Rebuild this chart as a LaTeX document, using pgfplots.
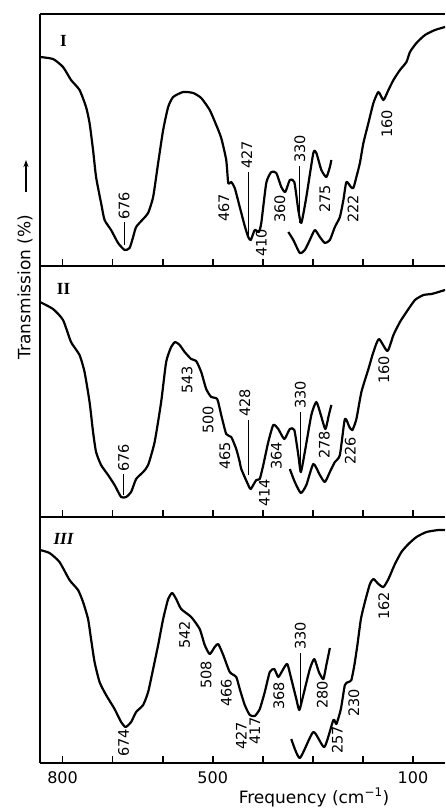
\documentclass[border=0pt]{standalone}
\usepackage{fontspec}
\setmainfont{DejaVu Sans}
\newfontfamily\romfont{Liberation Serif}
\usepackage{pgfplots}
\pgfplotsset{compat=1.18}
\usetikzlibrary{arrows.meta}

\pgfplotsset{
 panel/.style={scale only axis, width=405pt, x dir=reverse, xmin=36, xmax=845, ymin=0, clip=false,
   axis x line*=box, axis y line*=left, axis line style={line width=2.4pt},
   xtick={100,200,...,800}, ytick=\empty, tick align=inside, xtick pos=left, major tick length=7pt,
   major tick style={line width=1.8pt, black}, xticklabels={}, anchor=north west},
 curve/.style={black, line width=2.2pt, smooth, tension=0.35, line join=round, no markers},
}
\tikzset{
 pk/.style={rotate=90, anchor=west, inner sep=0pt, font=\fontsize{14.5}{14.5}\selectfont},
 ld/.style={line width=1.2pt},
 rn/.style={inner sep=0pt, font=\romfont\bfseries\fontsize{17}{17}\selectfont},
}

\begin{document}
\begin{tikzpicture}
\useasboundingbox (0pt,0pt) rectangle (445pt,-808pt);

% ---------------- Panel I ----------------
\begin{axis}[panel, at={(40pt,-14pt)}, height=252pt, ymax=252]
\addplot[curve] coordinates {
(845,209)(819,207)(799,199)(783,186)(766,176)(753,159)(746,143)(739,116)(733,89)(723,63)(716,46)(703,36)(689,23)(676,16)(666,18)(659,29)(653,39)(639,47)(629,53)(619,69)(609,103)(599,136)(589,159)(579,169)(559,174)(539,173)(523,168)(506,156)(493,141)(483,128)(473,106)(469,83)(463,84)(456,78)(446,59)(436,40)(429,29)(424,26)(416,36)(408,34)(403,43)(393,83)(383,94)(373,93)(363,79)(355,74)(346,86)(337,84)(329,56)(323,43)(313,69)(299,113)(293,113)(283,96)(273,89)(266,99)(263,106)
};
\addplot[curve] coordinates {
(349,34)(339,26)(326,13)(316,16)(306,26)(296,36)(286,29)(276,23)(266,26)(256,39)(246,49)(239,66)(233,84)(224,79)(219,78)(213,89)(206,103)(199,123)(189,143)(179,163)(169,174)(159,166)(149,176)(139,186)(126,196)(113,204)(106,214)(93,223)(76,231)(56,236)(36,239)
};
\node[rn] at (axis cs:798,225) {I};
\draw[ld] (axis cs:677,21) -- (axis cs:677,44);
\node[pk] at (axis cs:677,46) {676};
\node[pk] at (axis cs:478,44) {467};
\draw[ld] (axis cs:428,27) -- (axis cs:428,94);
\node[pk] at (axis cs:432,97) {427};
\node[pk] at (axis cs:403,9) {410};
\node[pk] at (axis cs:366,43) {360};
\draw[ld] (axis cs:326,43) -- (axis cs:326,100);
\node[pk] at (axis cs:326,103) {330};
\node[pk] at (axis cs:276,53) {275};
\node[pk] at (axis cs:220,43) {222};
\node[pk] at (axis cs:152,128) {160};
\end{axis}

% ---------------- Panel II ----------------
\begin{axis}[panel, at={(40pt,-266pt)}, height=251pt, ymax=251]
\addplot[curve] coordinates {
(845,215)(819,208)(799,197)(783,175)(766,162)(756,145)(746,115)(739,85)(733,65)(723,52)(709,42)(696,32)(683,20)(673,20)(663,25)(653,38)(639,45)(629,52)(616,75)(603,115)(593,155)(583,170)(575,175)(566,172)(556,165)(543,158)(533,156)(523,145)(513,128)(503,120)(491,118)(483,102)(473,83)(463,80)(453,68)(446,55)(443,48)(429,32)(424,28)(413,37)(406,38)(399,52)(389,75)(379,92)(369,88)(357,78)(346,88)(337,87)(329,62)(324,45)(316,65)(303,102)(293,115)(284,102)(275,88)(268,102)(263,112)
};
\addplot[curve] coordinates {
(346,48)(336,35)(324,24)(313,32)(299,53)(286,42)(276,35)(266,45)(256,55)(246,62)(236,98)(227,90)(221,87)(213,98)(203,125)(189,148)(179,165)(168,178)(151,166)(139,182)(126,195)(113,205)(96,217)(79,222)(63,223)(49,225)(36,227)
};
\node[rn] at (axis cs:798,228) {II};
\draw[ld] (axis cs:678,22) -- (axis cs:678,43);
\node[pk] at (axis cs:678,45) {676};
\node[pk] at (axis cs:551,123) {543};
\node[pk] at (axis cs:509,83) {500};
\node[pk] at (axis cs:476,47) {465};
\draw[ld] (axis cs:428,42) -- (axis cs:428,97);
\node[pk] at (axis cs:436,100) {428};
\node[pk] at (axis cs:397,10) {414};
\node[pk] at (axis cs:373,47) {364};
\draw[ld] (axis cs:325,48) -- (axis cs:325,105);
\node[pk] at (axis cs:325,108) {330};
\node[pk] at (axis cs:277,58) {278};
\node[pk] at (axis cs:225,52) {226};
\node[pk] at (axis cs:158,133) {160};
\end{axis}

% ---------------- Panel III ----------------
\begin{axis}[panel, at={(40pt,-517pt)}, height=246pt, ymax=246,
  xticklabels={100,{},{},{},500,{},{},800},
  xticklabel style={font=\fontsize{16}{16}\selectfont, yshift=-5pt}]
\addplot[curve] coordinates {
(845,213)(826,210)(806,201)(786,183)(769,173)(759,161)(749,144)(743,124)(736,101)(726,81)(713,68)(696,54)(683,41)(674,36)(663,41)(653,51)(639,58)(629,71)(619,94)(609,118)(599,144)(589,164)(581,170)(573,164)(563,154)(543,146)(526,134)(516,118)(506,109)(496,116)(489,119)(479,108)(466,91)(453,86)(446,74)(436,58)(426,48)(416,47)(406,54)(396,71)(386,91)(377,94)(369,86)(359,94)(351,99)(343,84)(333,64)(327,53)(319,68)(306,94)(297,104)(288,91)(279,84)(273,98)(266,115)
};
\addplot[curve] coordinates {
(343,24)(326,5)(299,31)(277,16)(259,43)(253,39)(244,54)(236,78)(229,81)(223,83)(217,98)(211,118)(204,144)(196,161)(186,179)(179,184)(169,179)(159,176)(149,184)(136,199)(123,211)(109,219)(93,226)(73,231)(49,233)(36,233)
};
\node[rn] at (axis cs:798,224) {\itshape III};
\node[pk] at (axis cs:678,6) {674};
\node[pk] at (axis cs:556,114) {542};
\node[pk] at (axis cs:513,74) {508};
\node[pk] at (axis cs:473,56) {466};
\node[pk] at (axis cs:443,13) {427};
\node[pk] at (axis cs:416,18) {417};
\node[pk] at (axis cs:368,53) {368};
\draw[ld] (axis cs:325,54) -- (axis cs:325,110);
\node[pk] at (axis cs:325,113) {330};
\node[pk] at (axis cs:281,54) {280};
\node[pk] at (axis cs:251,9) {257};
\node[pk] at (axis cs:218,46) {230};
\node[pk] at (axis cs:158,143) {162};
\end{axis}

% axis titles
\node[rotate=90, font=\fontsize{17}{17}\selectfont, inner sep=0pt] at (25pt,-287pt) {Transmission (\%)};
\draw[line width=1.2pt, -{Stealth[length=7pt,width=5pt]}] (26pt,-192pt) -- (26pt,-160pt);
\node[anchor=base, font=\fontsize{17}{17}\selectfont, inner sep=0pt] at (314pt,-803pt) {Frequency (cm\textsuperscript{−1})};
\end{tikzpicture}
\end{document}
